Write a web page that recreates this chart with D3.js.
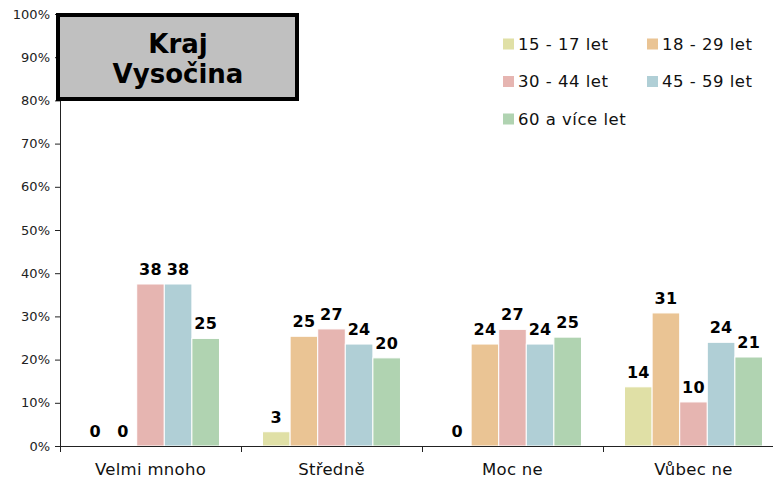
<!DOCTYPE html>
<html>
<head>
<meta charset="utf-8">
<script src="https://cdn.jsdelivr.net/npm/d3@7"></script>
<style>
  body { margin:0; background:#fff; }
  svg { font-family:"DejaVu Sans", Verdana, sans-serif; display:block; }
  .tick text { fill:#222; }
</style>
</head>
<body>
<svg></svg>
<script>
// categories on x axis
var categories = ["Velmi mnoho","Středně","Moc ne","Vůbec ne"]
// age groups (series)
var series = ["15 - 17 let","18 - 29 let","30 - 44 let","45 - 59 let","60 a více let"]
var colors = ["#e0e0a6","#eac494","#e6b5b1","#b0cfd6","#b0d3b1"]
// values in % per series, one per category
var v1517 = [0, 3.3, 0, 13.7]
var v1829 = [0, 25.4, 23.6, 30.8]
var v3044 = [37.5, 27.1, 27.0, 10.2]
var v4559 = [37.5, 23.6, 23.6, 24.0]
var v60 = [24.9, 20.4, 25.2, 20.6]
var yTicks = [0,10,20,30,40,50,60,70,80,90,100]
var title = ["Kraj","Vysočina"]

var values = [v1517,v1829,v3044,v4559,v60]

var screen = {width:773,height:480}
var margins = {left:60,right:-11,top:14,bottom:34}

var svg = d3.select("svg")
  .attr("width",screen.width)
  .attr("height",screen.height)

var xScale = d3.scaleBand()
  .domain(categories)
  .range([margins.left,screen.width-margins.right])
  .padding(0)

var inner = d3.scaleBand()
  .domain(series)
  .range([0,xScale.bandwidth()])
  .paddingInner(0)
  .paddingOuter(0.78)

var yScale = d3.scaleLinear()
  .domain([0,100])
  .range([screen.height-margins.bottom,margins.top])

// bars
var groups = svg.append("g")
  .selectAll("g")
  .data(series)
  .enter()
  .append("g")
  .attr("fill",function(d,i){return colors[i]})

groups.selectAll("rect")
  .data(function(d,i){return values[i].map(function(v,j){return {s:d,c:categories[j],v:v}})})
  .enter()
  .append("rect")
  .attr("x",function(d){return xScale(d.c)+inner(d.s)})
  .attr("y",function(d){return yScale(d.v)})
  .attr("width",inner.bandwidth())
  .attr("height",function(d){return yScale(0)-yScale(d.v)})
  .attr("stroke","#fff")
  .attr("stroke-width",1)

// value labels
groups.selectAll("text")
  .data(function(d,i){return values[i].map(function(v,j){return {s:d,c:categories[j],v:v}})})
  .enter()
  .append("text")
  .attr("x",function(d){return xScale(d.c)+inner(d.s)+inner.bandwidth()/2})
  .attr("y",function(d){return yScale(d.v)-9})
  .attr("text-anchor","middle")
  .attr("fill","#000")
  .attr("font-weight","bold")
  .attr("font-size","16px")
  .attr("letter-spacing","0.3px")
  .text(function(d){return Math.round(d.v)})

// y axis
var yAxis = d3.axisLeft(yScale)
  .tickValues(yTicks)
  .tickFormat(function(d){return d+"%"})
  .tickSize(5)
  .tickSizeOuter(0)
  .tickPadding(5)

var ya = svg.append("g")
  .attr("transform","translate("+margins.left+",0)")
  .call(yAxis)
ya.selectAll("text").attr("font-size","13px").attr("font-family","DejaVu Sans")
ya.selectAll("line,path").attr("stroke","#222")

// x axis: ticks on category boundaries
var xEdges = d3.scaleLinear()
  .domain([0,categories.length])
  .range(xScale.range())

var xAxis = d3.axisBottom(xEdges)
  .tickValues(d3.range(categories.length+1))
  .tickFormat("")
  .tickSize(6)
  .tickSizeOuter(0)

var xa = svg.append("g")
  .attr("transform","translate(0,"+yScale(0)+")")
  .call(xAxis)
xa.selectAll("line,path").attr("stroke","#222")

svg.append("g")
  .selectAll("text")
  .data(categories)
  .enter()
  .append("text")
  .attr("x",function(d){return xScale(d)+xScale.bandwidth()/2})
  .attr("y",yScale(0)+29)
  .attr("text-anchor","middle")
  .attr("font-size","16.5px")
  .attr("letter-spacing","0.3px")
  .attr("fill","#111")
  .text(function(d){return d})

// title box
var tb = svg.append("g")
tb.append("rect")
  .attr("x",58)
  .attr("y",15)
  .attr("width",239)
  .attr("height",84)
  .attr("fill","#c0c0c0")
  .attr("stroke","#000")
  .attr("stroke-width",4)
tb.selectAll("text")
  .data(title)
  .enter()
  .append("text")
  .attr("x",178)
  .attr("y",function(d,i){return 53+i*30})
  .attr("text-anchor","middle")
  .attr("font-weight","bold")
  .attr("font-size","26px")
  .text(function(d){return d})

// legend
var legend = svg.append("g")
  .selectAll("g")
  .data(series)
  .enter()
  .append("g")
  .attr("transform",function(d,i){
    return "translate("+(503+(i%2)*144)+","+(44+Math.floor(i/2)*37.5)+")"})

legend.append("rect")
  .attr("x",0)
  .attr("y",-5.5)
  .attr("width",11)
  .attr("height",11)
  .attr("fill",function(d,i){return colors[i]})

legend.append("text")
  .attr("x",15)
  .attr("y",0)
  .attr("dy","0.36em")
  .attr("font-size","16.5px")
  .attr("letter-spacing","0.5px")
  .attr("fill","#111")
  .text(function(d){return d})
</script>
</body>
</html>
